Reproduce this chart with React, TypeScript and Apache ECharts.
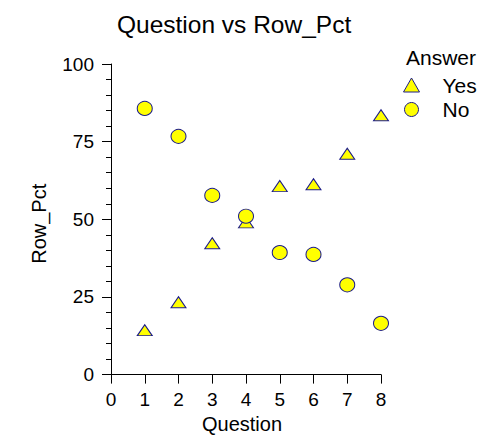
import React, { useEffect, useRef } from "react";
import * as echarts from "echarts";

const questions = [1, 2, 3, 4, 5, 6, 7, 8];
const yesPct = [14.3, 23.3, 42.3, 49.0, 60.7, 61.3, 71.1, 83.5];
const noPct = [85.7, 76.7, 57.7, 51.0, 39.3, 38.7, 28.9, 16.5];
const seriesNames = ["Yes", "No"];

const FONT = "Liberation Sans, Arial, sans-serif";
const FILL = "#ffff00";
const EDGE = "#1c1c8a";

export default function App() {
  const ref = useRef<HTMLDivElement>(null);
  useEffect(() => {
    if (!ref.current) return;
    const chart = echarts.init(ref.current, undefined, { renderer: "svg" });
    chart.setOption({
      animation: false,
      backgroundColor: "#ffffff",
      textStyle: { fontFamily: FONT },
      title: [
        {
          text: "Question vs Row_Pct",
          left: 117,
          top: 12,
          padding: 0,
          textStyle: { fontFamily: FONT, fontSize: 24.5, fontWeight: "normal", color: "#000" },
        },
        {
          text: "Answer",
          left: 406,
          top: 47,
          padding: 0,
          textStyle: { fontFamily: FONT, fontSize: 21, fontWeight: "normal", color: "#000" },
        },
      ],
      legend: {
        orient: "vertical",
        left: 403,
        top: 74.5,
        padding: 0,
        itemWidth: 16,
        itemHeight: 14,
        itemGap: 3.5,
        itemStyle: { borderWidth: 1 },
        data: [
          { name: seriesNames[0], icon: "triangle" },
          { name: seriesNames[1], icon: "circle" },
        ],
        textStyle: { fontFamily: FONT, fontSize: 21, color: "#000", lineHeight: 21, padding: [0, 0, 0, 18] },
      },
      grid: { left: 111, right: 102, top: 64, bottom: 52 },
      xAxis: {
        type: "value",
        min: 0,
        max: 8,
        interval: 1,
        name: "Question",
        nameLocation: "middle",
        nameGap: 34.5,
        nameTextStyle: { fontFamily: FONT, fontSize: 20, color: "#000", padding: [0, 8, 0, 0] },
        axisLine: { show: true, onZero: false, lineStyle: { color: "#000", width: 1 } },
        axisTick: { show: true, length: 9, lineStyle: { color: "#000" } },
        axisLabel: { fontFamily: FONT, fontSize: 19, color: "#000", margin: 15.5 },
        splitLine: { show: false },
      },
      yAxis: {
        type: "value",
        min: 0,
        max: 100,
        interval: 25,
        name: "Row_Pct",
        nameLocation: "middle",
        nameGap: 62,
        nameRotate: 90,
        nameTextStyle: { fontFamily: FONT, fontSize: 20, color: "#000", padding: [0, 9, 0, 0] },
        axisLine: { show: true, onZero: false, lineStyle: { color: "#000", width: 1 } },
        axisTick: { show: true, length: 9, lineStyle: { color: "#000" } },
        minorTick: { show: true, splitNumber: 5, length: 5, lineStyle: { color: "#000" } },
        axisLabel: { fontFamily: FONT, fontSize: 19, color: "#000", margin: 17 },
        splitLine: { show: false },
        minorSplitLine: { show: false },
      },
      series: [
        {
          name: seriesNames[0],
          type: "scatter",
          symbol: "triangle",
          symbolSize: [15, 11],
          itemStyle: { color: FILL, borderColor: EDGE, borderWidth: 1, opacity: 1 },
          data: questions.map((q, i) => [q, yesPct[i]]),
        },
        {
          name: seriesNames[1],
          type: "scatter",
          symbol: "circle",
          symbolSize: [15, 14],
          itemStyle: { color: FILL, borderColor: EDGE, borderWidth: 1, opacity: 1 },
          data: questions.map((q, i) => [q, noPct[i]]),
        },
      ],
    });
    return () => chart.dispose();
  }, []);
  return (
    <div
      ref={ref}
      style={{ position: "fixed", left: 0, top: 0, width: 483, height: 439, background: "#fff" }}
    />
  );
}
